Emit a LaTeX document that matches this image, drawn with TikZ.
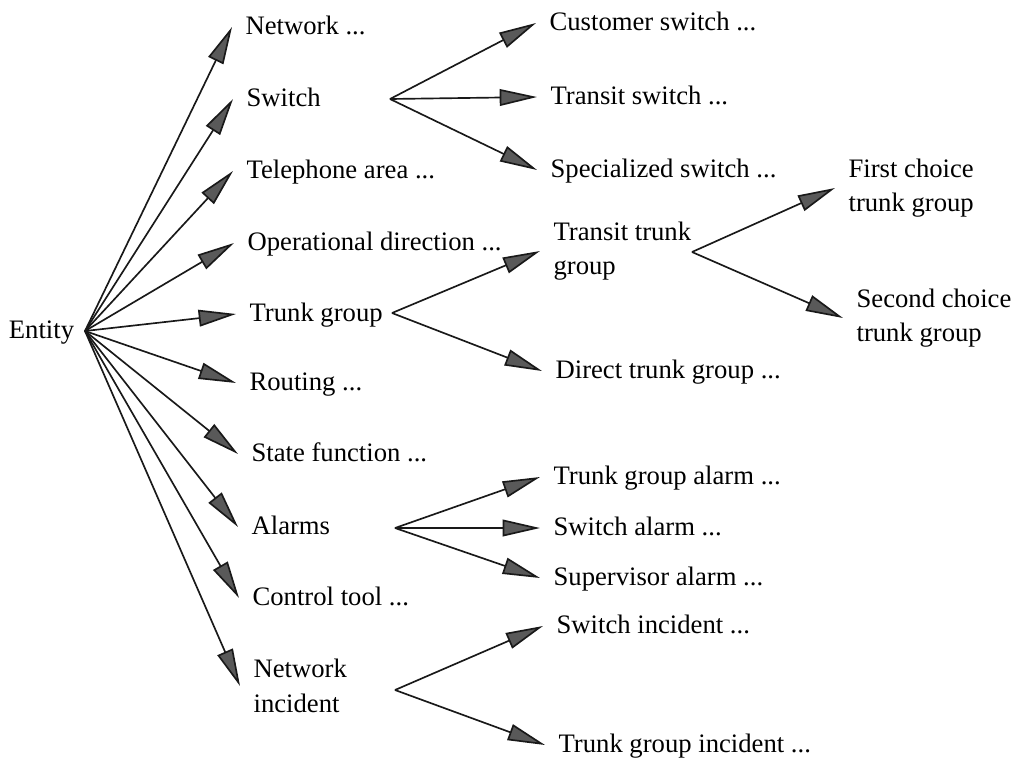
\documentclass[tikz,border=0pt]{standalone}
\usepackage{fontspec}
\setmainfont{Liberation Serif}
\usetikzlibrary{arrows.meta}

\begin{document}
\begin{tikzpicture}[
        x=0.75pt, y=-0.75pt,
        >={Triangle[length=28pt, width=12.5pt, fill=black!65]},
        every node/.style={font=\fontsize{20}{26}\selectfont},
        lbl/.style={anchor=west, inner xsep=10pt, inner ysep=0pt, text height=1.3em, text depth=0.14em},
        lbltwo/.style={anchor=west, inner xsep=10pt, inner ysep=0pt, align=left},
        arr/.style={->, line width=1.25pt, draw=black!90},
    ]
    \useasboundingbox (0,0) rectangle (1018,769);

    % ── Root ──
    \node[anchor=east, inner xsep=8pt, inner ysep=0pt, text height=1.3em, text depth=0.14em] (entity) at (85,331) {Entity};

    % ── First level ──
    \node[lbl] (net)    at (232,27)  {Network ...};
    \node[lbl] (sw)     at (233,99)  {Switch};
    \node[lbl] (tel)    at (233,171) {Telephone area ...};
    \node[lbl] (opdir)  at (234,243) {Operational direction ...};
    \node[lbl] (tg)     at (236,314) {Trunk group};
    \node[lbl] (rout)   at (236,383) {Routing ...};
    \node[lbl] (state)  at (238,454) {State function ...};
    \node[lbl] (alarms) at (238,527) {Alarms};
    \node[lbl] (ctrl)   at (239,598) {Control tool ...};
    \node[lbltwo] (nwinc) at (240,686) {Network\\incident};

    % ── Switch ──
    \node[lbl] (cust) at (536,23)  {Customer switch ...};
    \node[lbl] (trsw) at (537,97)  {Transit switch ...};
    \node[lbl] (spec) at (537,170) {Specialized switch ...};

    % ── Trunk group ──
    \node[lbltwo] (trtg) at (540,251) {Transit trunk\\group};
    \node[lbl] (dirtg) at (542,371) {Direct trunk group ...};
    \node[lbltwo] (first)  at (835,188) {First choice\\trunk group};
    \node[lbltwo] (second) at (843,318) {Second choice\\trunk group};

    % ── Alarms ──
    \node[lbl] (tgal)  at (540,477) {Trunk group alarm ...};
    \node[lbl] (swal)  at (540,528) {Switch alarm ...};
    \node[lbl] (supal) at (540,578) {Supervisor alarm ...};

    % ── Network incident ──
    \node[lbl] (swinc) at (543,626) {Switch incident ...};
    \node[lbl] (tginc) at (545,745) {Trunk group incident ...};

    % ── Fan origins ──
    \coordinate (swfan)   at (390,99);
    \coordinate (tgfan)   at (392,313);
    \coordinate (trtgfan) at (692,252);
    \coordinate (alfan)   at (395,528);
    \coordinate (incfan)  at (395,690);

    % ── Arrows: Entity → first level ──
    \draw[arr] (entity.east) -- (net.west);
    \draw[arr] (entity.east) -- (sw.west);
    \draw[arr] (entity.east) -- (tel.west);
    \draw[arr] (entity.east) -- (opdir.west);
    \draw[arr] (entity.east) -- (tg.west);
    \draw[arr] (entity.east) -- (rout.west);
    \draw[arr] (entity.east) -- (state.west);
    \draw[arr] (entity.east) -- (alarms.west);
    \draw[arr] (entity.east) -- (ctrl.west);
    \draw[arr] (entity.east) -- (nwinc.west);

    % ── Arrows: second level ──
    \draw[arr] (swfan) -- (cust.west);
    \draw[arr] (swfan) -- (trsw.west);
    \draw[arr] (swfan) -- (spec.west);
    \draw[arr] (tgfan) -- (trtg.west);
    \draw[arr] (tgfan) -- (dirtg.west);
    \draw[arr] (trtgfan) -- (first.west);
    \draw[arr] (trtgfan) -- (second.west);
    \draw[arr] (alfan) -- (tgal.west);
    \draw[arr] (alfan) -- (swal.west);
    \draw[arr] (alfan) -- (supal.west);
    \draw[arr] (incfan) -- (swinc.west);
    \draw[arr] (incfan) -- (tginc.west);

\end{tikzpicture}
\end{document}
